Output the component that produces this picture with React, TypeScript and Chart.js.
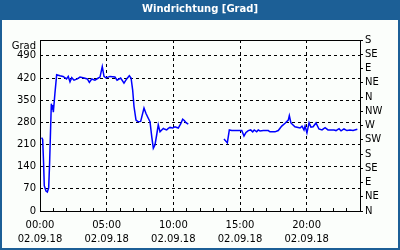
import { useEffect, useRef } from 'react';
import { Chart, registerables } from 'chart.js';
Chart.register(...registerables);

const titleText = 'Windrichtung [Grad]';
const yUnit = 'Grad';
const dateLabel = '02.09.18';
const hourTicks = [0, 1, 2, 3, 4, 5, 6, 7, 8, 9, 10, 11, 12, 13, 14, 15, 16, 17, 18, 19, 20, 21, 22, 23, 24];
const xLabelHours = [0, 5, 10, 15, 20];
const leftTicks = [0, 70, 140, 210, 280, 350, 420, 490];
const compass = ['N', 'NE', 'E', 'SE', 'S', 'SW', 'W', 'NW', 'N', 'NE', 'E', 'SE', 'S'];

const hours = [
  0.12, 0.2, 0.27, 0.32, 0.45, 0.55, 0.65, 0.72, 0.8, 0.85, 0.9, 0.95, 1.0, 1.12, 1.25,
  1.5, 1.73, 1.99, 2.12, 2.25, 2.38, 2.55, 2.8, 3.0, 3.3, 3.55, 3.7, 3.88, 4.12, 4.38,
  4.5, 4.67, 4.8, 4.95, 5.25, 5.62, 5.78, 6.05, 6.3, 6.5, 6.7, 6.83, 6.95, 7.05, 7.2,
  7.35, 7.55, 7.8, 7.95, 8.12, 8.25, 8.38, 8.5, 8.62, 8.75, 8.87, 9.0, 9.13, 9.25, 9.37,
  9.5, 9.62, 9.75, 9.95, 10.12, 10.37, 10.55, 10.7, 10.82, 10.95, 11.12,
  12.5,
  13.8, 14.05, 14.2, 14.38, 14.75, 15.13, 15.3, 15.45, 15.62, 15.8, 15.95, 16.07, 16.25,
  16.37, 16.5, 16.75, 17.12, 17.25, 17.62, 17.87, 18.13, 18.38, 18.62, 18.7, 18.82, 19.12,
  19.5, 19.65, 19.8, 19.88, 20.02, 20.18, 20.32, 20.48, 20.7, 20.92, 21.15, 21.38, 21.6,
  21.82, 22.05, 22.2, 22.43, 22.58, 22.8, 23.02, 23.25, 23.48, 23.8,
];

const degrees: (number | null)[] = [
  232, 226, 150, 80, 63, 60, 73, 150, 268, 339, 322, 335, 312, 372, 430,
  427, 425, 417, 425, 408, 421, 413, 417, 423, 420, 417, 406, 417, 413, 420,
  423, 456, 425, 420, 425, 423, 413, 420, 404, 417, 427, 420, 382, 330, 287,
  282, 283, 325, 308, 293, 282, 235, 198, 208, 240, 272, 250, 256, 261, 258,
  256, 261, 264, 262, 266, 262, 275, 290, 286, 279, 274,
  null,
  227, 215, 256, 254, 254, 254, 237, 248, 254, 256, 250, 256, 250,
  256, 253, 254, 254, 250, 250, 254, 268, 277, 287, 301, 278, 266,
  262, 268, 256, 268, 247, 279, 265, 266, 278, 259, 256, 263, 256,
  256, 256, 254, 260, 253, 259, 254, 256, 254, 258,
];

export default function App() {
  const ref = useRef<HTMLCanvasElement>(null);

  useEffect(() => {
    document.body.style.margin = '0';
    const canvas = ref.current;
    if (!canvas) return;
    const font = { family: 'DejaVu Sans', size: 10 };

    const frame = {
      id: 'frame',
      beforeDraw(c: any) {
        const ctx = c.ctx;
        ctx.save();
        ctx.fillStyle = '#1c5f96';
        ctx.fillRect(0, 0, c.width, c.height);
        ctx.fillStyle = '#fbfefb';
        ctx.fillRect(2, 20, 396, 228);
        ctx.restore();
      },
      afterDraw(c: any) {
        const ctx = c.ctx;
        const { left, top, right, bottom } = c.chartArea;
        ctx.save();
        ctx.strokeStyle = '#000';
        ctx.lineWidth = 1;
        ctx.setLineDash([]);
        ctx.strokeRect(left + 0.5, top + 0.5, right - left, bottom - top);
        ctx.restore();
      },
    };

    const chart = new Chart(canvas, {
      type: 'line',
      data: {
        datasets: [
          {
            data: hours.map((h, i) => ({ x: h, y: degrees[i] })) as any,
            borderColor: '#0000ff',
            borderWidth: 1.5,
            pointRadius: 0,
            tension: 0,
            spanGaps: false,
            xAxisID: 'x',
            yAxisID: 'y',
          },
        ],
      },
      options: {
        responsive: false,
        animation: false,
        devicePixelRatio: 1,
        layout: { padding: 0 },
        plugins: {
          legend: { display: false },
          tooltip: { enabled: false },
          title: {
            display: true,
            text: titleText,
            color: '#ffffff',
            font: { family: 'DejaVu Sans', size: 10, weight: 'bold' },
            padding: { top: 3, bottom: 25 },
          },
        },
        scales: {
          x: {
            type: 'linear',
            min: 0,
            max: 24,
            afterBuildTicks: (s: any) => {
              s.ticks = hourTicks.map((value) => ({ value }));
            },
            afterFit: (s: any) => {
              s.height = 39;
            },
            grid: {
              color: (ctx: any) =>
                ctx.tick && xLabelHours.includes(ctx.tick.value) && ctx.tick.value > 0 ? '#000' : 'transparent',
              tickColor: '#000',
              tickLength: -3,
              lineWidth: 1,
            },
            border: { display: false, dash: [3, 3] },
            ticks: {
              autoSkip: false,
              maxRotation: 0,
              padding: 10,
              color: '#000',
              font: { ...font, lineHeight: 1.4 },
              callback: (v: any) => {
                const n = Number(v);
                if (!xLabelHours.includes(n)) return '';
                return [String(n).padStart(2, '0') + ':00', dateLabel];
              },
            },
          },
          y: {
            type: 'linear',
            position: 'left',
            min: 0,
            max: 540,
            afterBuildTicks: (s: any) => {
              s.ticks = [...leftTicks, 521].map((value) => ({ value }));
            },
            afterFit: (s: any) => {
              s.width = 40;
            },
            grid: {
              color: (ctx: any) =>
                ctx.tick && ctx.tick.value > 0 && ctx.tick.value <= 490 ? '#000' : 'transparent',
              drawTicks: false,
              lineWidth: 1,
            },
            border: { display: false, dash: [3, 3] },
            ticks: {
              autoSkip: false,
              padding: 4,
              color: '#000',
              font,
              callback: (v: any) => (Number(v) === 521 ? yUnit : String(v)),
            },
          },
          y2: {
            type: 'linear',
            position: 'right',
            min: 0,
            max: 540,
            afterFit: (s: any) => {
              s.width = 40;
            },
            grid: {
              drawOnChartArea: false,
              tickLength: 3,
              color: '#000',
              tickColor: '#000',
            },
            border: { display: false },
            ticks: {
              stepSize: 45,
              autoSkip: false,
              padding: 2,
              color: '#000',
              font,
              callback: (v: any) => compass[Math.round(Number(v) / 45)],
            },
          },
        },
      },
      plugins: [frame],
    });

    return () => chart.destroy();
  }, []);

  return (
    <div style={{ position: 'absolute', left: 0, top: 0, width: 400, height: 250 }}>
      <canvas ref={ref} width={400} height={250} />
    </div>
  );
}
